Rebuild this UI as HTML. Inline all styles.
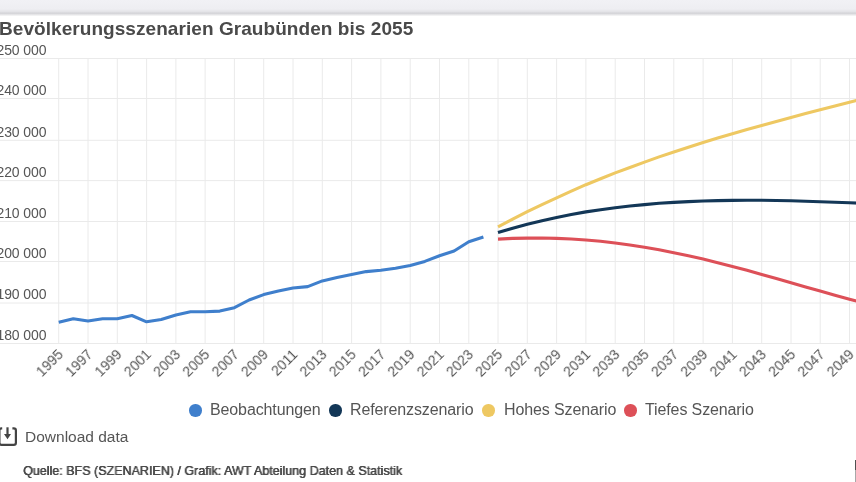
<!DOCTYPE html>
<html><head><meta charset="utf-8"><style>
*{will-change:transform;}
html,body{margin:0;padding:0;background:#fff;width:856px;height:482px;overflow:hidden;position:relative;font-family:"Liberation Sans",sans-serif;}
.bar{position:absolute;left:0;top:0;width:856px;height:17px;background:linear-gradient(to bottom,#f1f1f5 0px,#eeeef2 9px,#e4e4e8 11.5px,#d3d3d7 13.3px,#e9e9eb 14.8px,#fff 16.5px);}
.title{position:absolute;left:-0.7px;top:17px;font-size:19px;letter-spacing:0.06px;font-weight:bold;color:#4a4a4a;white-space:nowrap;line-height:24px;}
svg{position:absolute;left:0;top:0;}
.grid line{stroke:#eaeaea;stroke-width:1;}
.yl text{font-size:14px;fill:#555;letter-spacing:-0.1px;}
.xl text{font-size:14px;fill:#555;text-anchor:end;dominant-baseline:middle;}
.ln{fill:none;stroke-width:3.1;stroke-linejoin:round;stroke-linecap:butt;}
.leg{position:absolute;top:400px;font-size:16px;letter-spacing:-0.12px;color:#555;white-space:nowrap;line-height:20px;}
.dot{position:absolute;width:12.5px;height:12.5px;border-radius:50%;top:403.9px;}
.dl{position:absolute;left:25px;top:428px;font-size:15.5px;color:#555;white-space:nowrap;line-height:18px;}
.src{position:absolute;left:23px;top:463px;font-size:13px;text-shadow:0.4px 0 0 #4a4a4a,0 0.2px 0 #4a4a4a;color:#4a4a4a;white-space:nowrap;line-height:16px;transform:scaleX(0.9625);transform-origin:0 0;}
</style></head><body>
<div class="bar"></div>
<div class="title">Bevölkerungsszenarien Graubünden bis 2055</div>
<svg width="856" height="482" viewBox="0 0 856 482">
<g class="grid"><line x1="0" y1="58.5" x2="856" y2="58.5"/><line x1="0" y1="98.5" x2="856" y2="98.5"/><line x1="0" y1="140.3" x2="856" y2="140.3"/><line x1="0" y1="180.6" x2="856" y2="180.6"/><line x1="0" y1="221.5" x2="856" y2="221.5"/><line x1="0" y1="261.5" x2="856" y2="261.5"/><line x1="0" y1="303.0" x2="856" y2="303.0"/><line x1="0" y1="343.5" x2="856" y2="343.5"/><line x1="58.7" y1="58.5" x2="58.7" y2="343.5"/><line x1="88.0" y1="58.5" x2="88.0" y2="343.5"/><line x1="117.3" y1="58.5" x2="117.3" y2="343.5"/><line x1="146.6" y1="58.5" x2="146.6" y2="343.5"/><line x1="175.9" y1="58.5" x2="175.9" y2="343.5"/><line x1="205.1" y1="58.5" x2="205.1" y2="343.5"/><line x1="234.4" y1="58.5" x2="234.4" y2="343.5"/><line x1="263.7" y1="58.5" x2="263.7" y2="343.5"/><line x1="293.0" y1="58.5" x2="293.0" y2="343.5"/><line x1="322.3" y1="58.5" x2="322.3" y2="343.5"/><line x1="351.6" y1="58.5" x2="351.6" y2="343.5"/><line x1="380.9" y1="58.5" x2="380.9" y2="343.5"/><line x1="410.2" y1="58.5" x2="410.2" y2="343.5"/><line x1="439.5" y1="58.5" x2="439.5" y2="343.5"/><line x1="468.8" y1="58.5" x2="468.8" y2="343.5"/><line x1="498.0" y1="58.5" x2="498.0" y2="343.5"/><line x1="527.3" y1="58.5" x2="527.3" y2="343.5"/><line x1="556.6" y1="58.5" x2="556.6" y2="343.5"/><line x1="585.9" y1="58.5" x2="585.9" y2="343.5"/><line x1="615.2" y1="58.5" x2="615.2" y2="343.5"/><line x1="644.5" y1="58.5" x2="644.5" y2="343.5"/><line x1="673.8" y1="58.5" x2="673.8" y2="343.5"/><line x1="703.1" y1="58.5" x2="703.1" y2="343.5"/><line x1="732.4" y1="58.5" x2="732.4" y2="343.5"/><line x1="761.7" y1="58.5" x2="761.7" y2="343.5"/><line x1="791.0" y1="58.5" x2="791.0" y2="343.5"/><line x1="820.2" y1="58.5" x2="820.2" y2="343.5"/><line x1="849.5" y1="58.5" x2="849.5" y2="343.5"/></g>
<g class="yl"><text x="-3.5" y="54.9">250 000</text><text x="-3.5" y="94.9">240 000</text><text x="-3.5" y="136.7">230 000</text><text x="-3.5" y="177.0">220 000</text><text x="-3.5" y="217.9">210 000</text><text x="-3.5" y="257.9">200 000</text><text x="-3.5" y="299.4">190 000</text><text x="-3.5" y="339.9">180 000</text></g>
<g class="xl"><text transform="translate(61.2,352.6) rotate(-45)">1995</text><text transform="translate(90.5,352.6) rotate(-45)">1997</text><text transform="translate(119.8,352.6) rotate(-45)">1999</text><text transform="translate(149.1,352.6) rotate(-45)">2001</text><text transform="translate(178.4,352.6) rotate(-45)">2003</text><text transform="translate(207.6,352.6) rotate(-45)">2005</text><text transform="translate(236.9,352.6) rotate(-45)">2007</text><text transform="translate(266.2,352.6) rotate(-45)">2009</text><text transform="translate(295.5,352.6) rotate(-45)">2011</text><text transform="translate(324.8,352.6) rotate(-45)">2013</text><text transform="translate(354.1,352.6) rotate(-45)">2015</text><text transform="translate(383.4,352.6) rotate(-45)">2017</text><text transform="translate(412.7,352.6) rotate(-45)">2019</text><text transform="translate(442.0,352.6) rotate(-45)">2021</text><text transform="translate(471.3,352.6) rotate(-45)">2023</text><text transform="translate(500.5,352.6) rotate(-45)">2025</text><text transform="translate(529.8,352.6) rotate(-45)">2027</text><text transform="translate(559.1,352.6) rotate(-45)">2029</text><text transform="translate(588.4,352.6) rotate(-45)">2031</text><text transform="translate(617.7,352.6) rotate(-45)">2033</text><text transform="translate(647.0,352.6) rotate(-45)">2035</text><text transform="translate(676.3,352.6) rotate(-45)">2037</text><text transform="translate(705.6,352.6) rotate(-45)">2039</text><text transform="translate(734.9,352.6) rotate(-45)">2041</text><text transform="translate(764.2,352.6) rotate(-45)">2043</text><text transform="translate(793.5,352.6) rotate(-45)">2045</text><text transform="translate(822.7,352.6) rotate(-45)">2047</text><text transform="translate(852.0,352.6) rotate(-45)">2049</text></g>
<path class="ln" stroke="#3f7fcc" d="M58.7,322.2 L73.3,318.7 L88.0,321.0 L102.6,318.8 L117.3,318.8 L131.9,315.5 L146.6,321.8 L161.2,319.5 L175.9,315.0 L190.5,311.8 L205.1,311.8 L219.8,311.1 L234.4,307.7 L249.1,300.0 L263.7,294.6 L278.4,291.1 L293.0,288.0 L307.7,286.6 L322.3,280.9 L337.0,277.4 L351.6,274.4 L366.2,271.6 L380.9,270.2 L395.5,268.2 L410.2,265.5 L424.8,261.4 L439.5,255.8 L454.1,251.0 L468.8,241.8 L483.4,237.0"/>
<path class="ln" stroke="#eec862" d="M498.0,226.8 L512.7,219.1 L527.3,211.7 L542.0,204.6 L556.6,197.8 L571.3,191.2 L585.9,184.7 L600.6,178.7 L615.2,172.9 L629.9,167.5 L644.5,162.1 L659.1,156.9 L673.8,152.0 L688.4,147.2 L703.1,142.5 L717.7,138.0 L732.4,133.7 L747.0,129.5 L761.7,125.4 L776.3,121.4 L791.0,117.4 L805.6,113.6 L820.2,109.8 L834.9,106.0 L849.5,102.3 L864.2,98.6"/>
<path class="ln" stroke="#133757" d="M498.0,232.6 L512.7,228.2 L527.3,224.2 L542.0,220.7 L556.6,217.4 L571.3,214.5 L585.9,211.9 L600.6,209.7 L615.2,207.7 L629.9,206.0 L644.5,204.6 L659.1,203.3 L673.8,202.4 L688.4,201.6 L703.1,201.0 L717.7,200.6 L732.4,200.4 L747.0,200.3 L761.7,200.3 L776.3,200.5 L791.0,200.8 L805.6,201.2 L820.2,201.7 L834.9,202.2 L849.5,202.8 L864.2,203.4"/>
<path class="ln" stroke="#dd5058" d="M498.0,239.1 L512.7,238.4 L527.3,238.1 L542.0,238.0 L556.6,238.4 L571.3,239.0 L585.9,240.0 L600.6,241.3 L615.2,243.0 L629.9,245.0 L644.5,247.3 L659.1,249.8 L673.8,252.7 L688.4,255.8 L703.1,259.1 L717.7,262.7 L732.4,266.4 L747.0,270.3 L761.7,274.4 L776.3,278.5 L791.0,282.7 L805.6,286.9 L820.2,291.1 L834.9,295.2 L849.5,299.3 L864.2,303.1"/>
<g fill="none" stroke="#444" stroke-width="2">
<path d="M2.2,428.4 H1.5 Q-0.6,428.4 -0.6,430.5 V442.7 Q-0.6,444.8 1.5,444.8 H13.8 Q15.9,444.8 15.9,442.7 V430.5 Q15.9,428.4 13.8,428.4 H12.4" stroke-width="2.2"/>
<path d="M7.5,427.3 V435" stroke-width="2.2"/>
</g>
<path d="M4,434 L11,434 L7.5,439.2 Z" fill="#444"/>
<rect x="855" y="460" width="1" height="10" fill="#505050"/><rect x="855" y="470" width="1" height="12" fill="#a8a8a8"/>
</svg>
<div class="dot" style="left:188.9px;background:#3f7fcc"></div>
<div class="leg" style="left:210px">Beobachtungen</div>
<div class="dot" style="left:328.8px;background:#133757"></div>
<div class="leg" style="left:350px">Referenzszenario</div>
<div class="dot" style="left:482.4px;background:#eec862"></div>
<div class="leg" style="left:503.6px">Hohes Szenario</div>
<div class="dot" style="left:624.1px;background:#dd5058"></div>
<div class="leg" style="left:645px">Tiefes Szenario</div>
<div class="dl">Download data</div>
<div class="src">Quelle: BFS (SZENARIEN) / Grafik: AWT Abteilung Daten &amp; Statistik</div>
</body></html>
